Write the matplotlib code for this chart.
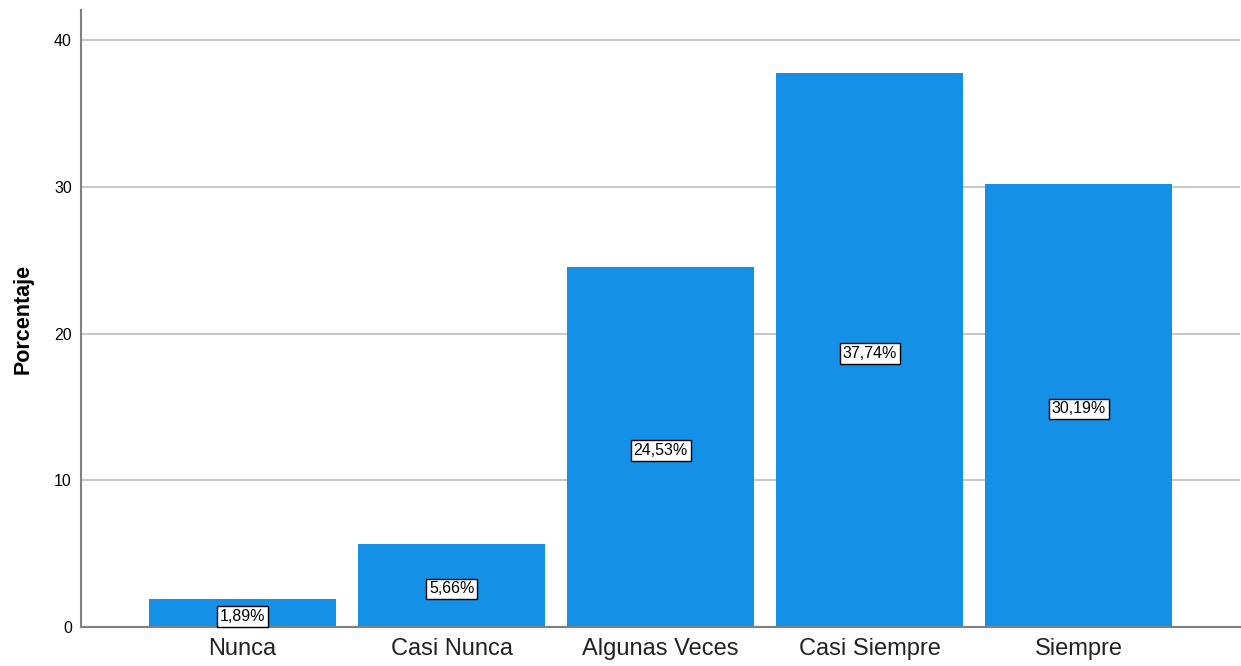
import matplotlib
matplotlib.use("Agg")
import matplotlib.pyplot as plt

categories = ["Nunca", "Casi Nunca", "Algunas Veces", "Casi Siempre", "Siempre"]
percentages = [1.89, 5.66, 24.53, 37.74, 30.19]
y_ticks = [0, 10, 20, 30, 40]

plt.rcParams["font.family"] = ["Liberation Sans", "DejaVu Sans"]

fig = plt.figure(figsize=(12.41, 6.66), dpi=100)
ax = fig.add_axes([81 / 1241, 39 / 666, 1159 / 1241, 617 / 666])

x = list(range(len(categories)))
bars = ax.bar(x, percentages, width=0.895, color="#1490E6", zorder=2)

for xi, v in zip(x, percentages):
    label = f"{v:.2f}%".replace(".", ",")
    ax.annotate(label, xy=(xi, v / 2), xytext=(0, -2.5), textcoords="offset points",
                ha="center", va="center", fontsize=11.5, color="black", zorder=3,
                bbox=dict(boxstyle="square,pad=0.18", facecolor="white",
                          edgecolor="black", linewidth=1))

ax.set_xlim(-0.773, 4.772)
ax.set_ylim(0, 40 * 617 / 587)
ax.set_yticks(y_ticks)
ax.set_xticks(x)
ax.set_xticklabels(categories, fontsize=17)
ax.tick_params(axis="y", labelsize=11.5, length=0, pad=6.5)
ax.tick_params(axis="x", length=0, pad=8)
for t in ax.get_xticklabels():
    t.set_color("#222222")

ax.yaxis.grid(True, color="#C8C8C8", linewidth=1.5, zorder=0)
ax.set_axisbelow(True)
for side in ["top", "right"]:
    ax.spines[side].set_visible(False)
for side in ["left", "bottom"]:
    ax.spines[side].set_color("#808080")
    ax.spines[side].set_linewidth(1.5)

ax.set_ylabel("Porcentaje", fontsize=15.5, fontweight="bold", labelpad=15)

fig.savefig("out.png", dpi=100)
